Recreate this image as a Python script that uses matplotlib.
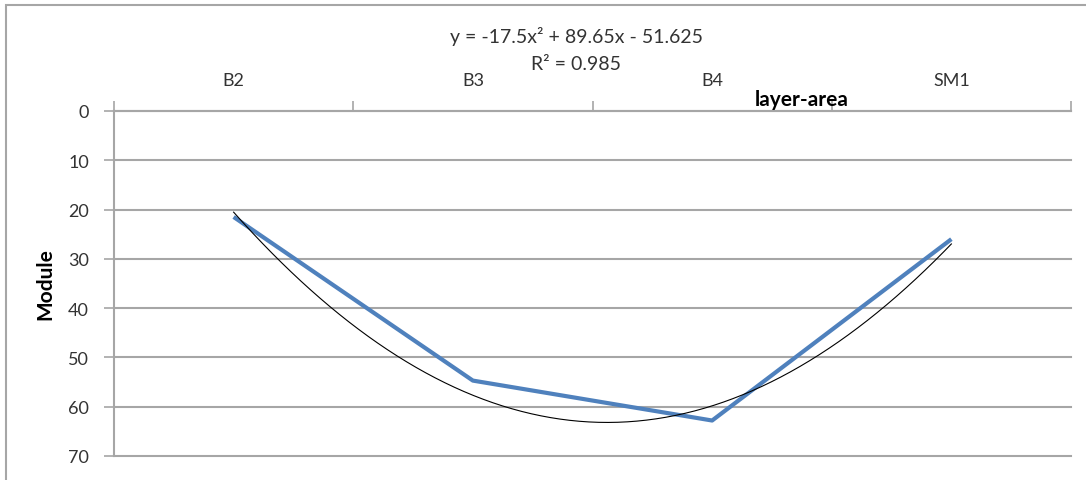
import matplotlib
matplotlib.use("Agg")
import matplotlib.pyplot as plt
import matplotlib.patches as mpatches
import numpy as np

plt.rcParams['font.family'] = ['Lato', 'DejaVu Sans']

# Data
categories = ["B2", "B3", "B4", "SM1"]
module_values = [21.5, 54.7, 62.8, 26.0]
trend_coeffs = [-17.5, 89.65, -51.625]   # quadratic trendline, highest power first
r_squared = 0.985
y_ticks = [0, 10, 20, 30, 40, 50, 60, 70]

W, H = 1086, 481
fig = plt.figure(figsize=(W / 100, H / 100), dpi=100)
ax = fig.add_axes([114 / W, 1 - 457 / H, (1071 - 114) / W, (457 - 112) / H])

grid_col = "#A6A6A6"
text_col = "#333333"

x = np.arange(1, len(categories) + 1)
ax.plot(x, module_values, color="#4F81BD", lw=3.0, solid_capstyle="butt", zorder=3)

xs = np.linspace(1, len(categories), 300)
ax.plot(xs, np.polyval(trend_coeffs, xs), color="black", lw=0.8, zorder=4)

ax.set_xlim(0.5, len(categories) + 0.5)
ax.set_ylim(70, 0)

# Category axis at the top, tick marks at category boundaries
ax.xaxis.set_ticks_position("top")
ax.set_xticks(np.arange(0.5, len(categories) + 1, 1.0))
ax.set_xticklabels([])
ax.set_xticks(x, minor=True)
ax.set_xticklabels(categories, minor=True)
ax.tick_params(axis="x", which="major", length=7, width=1.2, color=grid_col, direction="out")
ax.tick_params(axis="x", which="minor", length=0, pad=16.5, labelsize=13, labelcolor=text_col)

ax.set_yticks(y_ticks)
ax.tick_params(axis="y", length=7, width=1.2, color=grid_col, pad=11, labelsize=13,
               labelcolor=text_col)

ax.yaxis.grid(True, color=grid_col, lw=1.5)
for gl in ax.get_ygridlines():
    gl.set_clip_on(False)

for side in ["right", "bottom"]:
    ax.spines[side].set_visible(False)
for side in ["left", "top"]:
    ax.spines[side].set_color(grid_col)
    ax.spines[side].set_linewidth(1.5)

ax.set_ylabel("Module", fontsize=15, fontweight="bold", labelpad=9, color="black")
fig.text(802 / W, 1 - 100 / H, "layer-area", fontsize=15, fontweight="bold",
         ha="center", va="center")

eq = "y = {:g}x² + {:g}x - {:g}".format(trend_coeffs[0], trend_coeffs[1], -trend_coeffs[2])
fig.text(576 / W, 1 - 37 / H, eq, fontsize=14, ha="center", va="center", color=text_col)
fig.text(576 / W, 1 - 64 / H, "R² = {:g}".format(r_squared), fontsize=14,
         ha="center", va="center", color=text_col)

# Outer chart frame
fig.patches.append(mpatches.Rectangle((5.5 / W, -0.2), 1.2, 1.2 - 5.5 / H,
                                      transform=fig.transFigure, fill=False,
                                      edgecolor=grid_col, lw=1.5))

fig.savefig("out.png", dpi=100)
